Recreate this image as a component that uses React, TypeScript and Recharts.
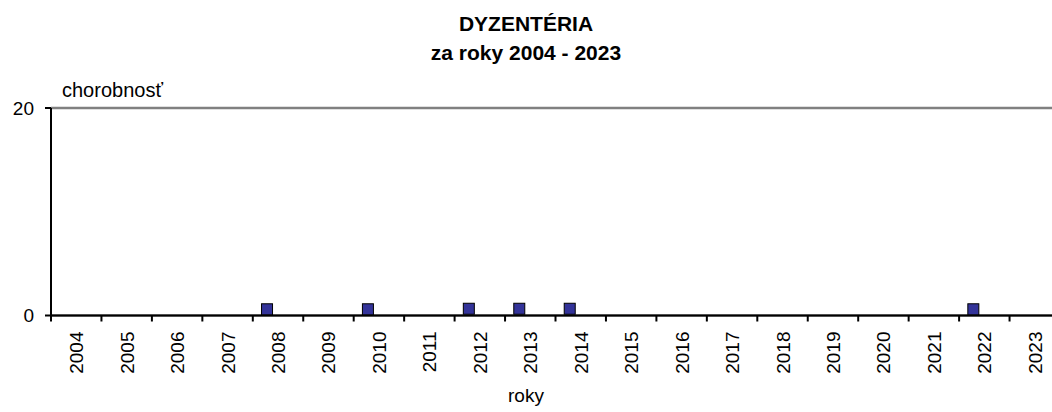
import { LineChart, Line, XAxis, YAxis, CartesianGrid } from "recharts";

const years = [
  "2004", "2005", "2006", "2007", "2008", "2009", "2010", "2011", "2012", "2013",
  "2014", "2015", "2016", "2017", "2018", "2019", "2020", "2021", "2022", "2023",
];
const morbidity: (number | null)[] = [
  null, null, null, null, 0.6, null, 0.6, null, 0.65, 0.65,
  0.65, null, null, null, null, null, null, null, 0.6, null,
];
const yTicks = [0, 20];

const data = years.map((year, i) => ({ year, value: morbidity[i] }));

const FONT = "'Liberation Sans', Arial, sans-serif";
const CHART_W = 1075;
const PLOT_LEFT = 51;
const PLOT_RIGHT = 1060;
const CAT_W = (PLOT_RIGHT - PLOT_LEFT) / years.length;
const MARK_SHIFT = -11;

function YearTick(props: any) {
  const { x, y, payload, index } = props;
  const half = CAT_W / 2;
  return (
    <g>
      <line x1={x - half} x2={x - half} y1={y} y2={y + 6} stroke="#000" strokeWidth={2} />
      {index === years.length - 1 && (
        <line x1={x + half} x2={x + half} y1={y} y2={y + 6} stroke="#000" strokeWidth={2} />
      )}
      <text
        x={x + 7}
        y={y + 16}
        transform={`rotate(-90 ${x + 7} ${y + 16})`}
        textAnchor="end"
        fontSize={19}
        fontFamily={FONT}
        fill="#000"
      >
        {payload.value}
      </text>
    </g>
  );
}

function SquareDot(props: any) {
  const { cx, cy, payload, index } = props;
  if (payload == null || payload.value == null || cx == null || cy == null) {
    return <g key={`d-${index}`} />;
  }
  return (
    <rect
      key={`d-${index}`}
      x={cx + MARK_SHIFT - 5.5}
      y={cy - 5.5}
      width={11}
      height={11}
      fill="#333399"
      stroke="#000"
      strokeWidth={1}
    />
  );
}

export default function App() {
  return (
    <div
      style={{
        position: "absolute",
        left: 0,
        top: 0,
        width: 1052,
        height: 412,
        overflow: "hidden",
        background: "#fff",
        fontFamily: FONT,
      }}
    >
      <div
        style={{
          position: "absolute",
          left: 0,
          width: 1052,
          top: 9,
          textAlign: "center",
          fontWeight: "bold",
          fontSize: 21,
          lineHeight: "29px",
          color: "#000",
        }}
      >
        <div>DYZENTÉRIA</div>
        <div>za roky 2004 - 2023</div>
      </div>
      <div style={{ position: "absolute", left: 62, top: 79, fontSize: 20, color: "#000" }}>
        chorobnosť
      </div>
      <div
        style={{
          position: "absolute",
          left: 0,
          width: 1052,
          top: 385,
          textAlign: "center",
          fontSize: 19,
          color: "#000",
        }}
      >
        roky
      </div>
      <div style={{ position: "absolute", left: 0, top: 0 }}>
        <LineChart
          width={CHART_W}
          height={412}
          data={data}
          margin={{ top: 108, right: CHART_W - PLOT_RIGHT, bottom: 0, left: 0 }}
        >
          <CartesianGrid vertical={false} stroke="#808080" strokeWidth={2.5} />
          <XAxis
            dataKey="year"
            interval={0}
            height={96.5}
            padding={{ left: CAT_W / 2, right: CAT_W / 2 }}
            tickSize={0}
            tickMargin={0}
            tickLine={false}
            axisLine={{ stroke: "#000", strokeWidth: 2 }}
            tick={<YearTick />}
          />
          <YAxis
            domain={[0, 20]}
            ticks={yTicks}
            width={PLOT_LEFT}
            tickSize={6}
            tickMargin={11}
            tickLine={{ stroke: "#000", strokeWidth: 2 }}
            axisLine={{ stroke: "#000", strokeWidth: 2 }}
            tick={{ fontSize: 19, fontFamily: FONT, fill: "#000" }}
          />
          <Line
            dataKey="value"
            stroke="none"
            dot={(p: any) => <SquareDot {...p} />}
            activeDot={false}
            isAnimationActive={false}
            connectNulls={false}
          />
        </LineChart>
      </div>
    </div>
  );
}
